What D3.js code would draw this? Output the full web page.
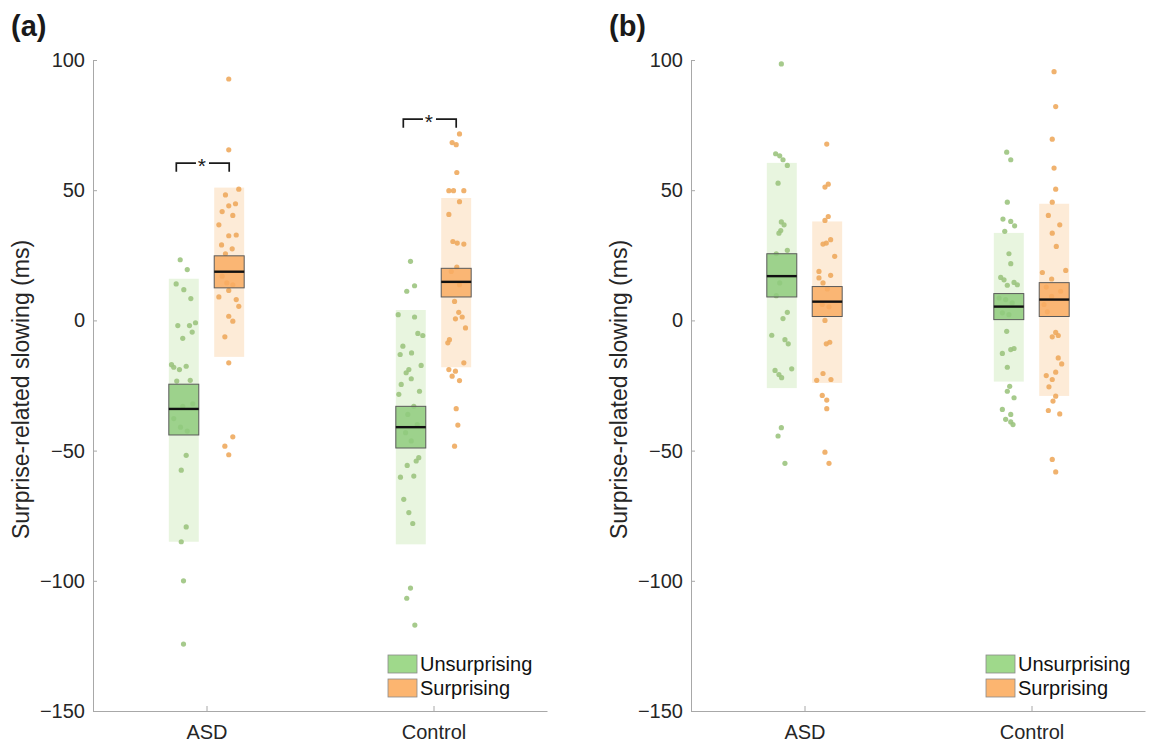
<!DOCTYPE html>
<html>
<head>
<meta charset="utf-8">
<script src="https://cdn.jsdelivr.net/npm/d3@7/dist/d3.min.js"></script>
<style>
  body { margin: 0; background: #fff; }
  svg text { font-family: "Liberation Sans", Arial, Helvetica, sans-serif; }
</style>
</head>
<body>
<div id="chart"></div>
<script>
const categories = ["ASD", "Control"];
const conditions = ["Unsurprising", "Surprising"];
const yTicks = [-150, -100, -50, 0, 50, 100];

// summary per group: [cat, cond, bandLow, boxLow, median, boxHigh, bandHigh]
const statsA = [
  ["ASD", "Unsurprising", -85, -44, -34, -24.5, 16],
  ["ASD", "Surprising", -14, 12.5, 18.7, 24.8, 51],
  ["Control", "Unsurprising", -86, -49, -41, -33, 4],
  ["Control", "Surprising", -18, 9, 14.8, 20, 47]
];
const statsB = [
  ["ASD", "Unsurprising", -26, 9, 17, 25.6, 60.5],
  ["ASD", "Surprising", -24, 1.5, 7.2, 13, 38],
  ["Control", "Unsurprising", -23.5, 0.3, 5.3, 10.3, 33.6],
  ["Control", "Surprising", -29, 1.5, 8, 14.5, 44.8]
];

// individual points: [value, jitter as fraction of half box width]
const ptsA_asdU = [[23.3,-0.24],[19.5,0.23],[14,-0.51],[11.8,0],[8.4,0.47],[-2,-0.4],[-2,0.38],[-0.9,0.78],[-4.5,0.56],[-6.9,-0.07],[-17,-0.82],[-18,-0.67],[-18.9,-0.29],[-17.6,0.16],[-23.3,-0.47],[-23,0.43],[-33,-0.07],[-32,0.6],[-37.7,-0.67],[-41,-0.22],[-42.5,0.23],[-51.8,0.16],[-57.5,-0.17],[-79.3,0.16],[-85,-0.17],[-100,-0.02],[-124.3,-0.02]];
const ptsA_asdS = [[92.7,-0.03],[65.5,-0.03],[50.4,0.64],[48.2,-0.25],[44.8,0.42],[44,-0.03],[41.8,-0.47],[40.3,0.24],[36.7,-0.69],[32.5,-0.03],[32.8,0.47],[29,-0.51],[27.5,0.2],[25.6,-0.25],[17,-0.47],[14.4,-0.16],[13.7,0.24],[9,-0.69],[11.5,-0.03],[8,0.47],[5.4,0.64],[1.6,-0.03],[-0.3,0.24],[-6.3,-0.29],[-16.3,-0.03],[-44.7,0.24],[-48.3,-0.29],[-51.6,-0.03]];
const ptsA_conU = [[22.7,-0.02],[13.3,0.25],[11.2,-0.27],[2.2,-0.84],[1.3,0.25],[-5,0.47],[-5.8,0.8],[-9.9,-0.53],[-12.5,0.05],[-13.1,-0.71],[-17.3,0.69],[-18.9,-0.13],[-20.1,-0.31],[-22.4,0.03],[-24.6,-0.64],[-28.4,-0.8],[-27.2,0.58],[-33,0.2],[-36.1,-0.2],[-40,0.43],[-43.1,-0.35],[-46.3,0.03],[-52.7,0.53],[-54,0.36],[-55.7,-0.24],[-60.2,-0.69],[-59.8,0.2],[-68.7,-0.47],[-73.8,-0.13],[-78,0.13],[-102.8,-0.02],[-106.7,-0.27],[-117,0.27]];
const ptsA_conS = [[71.6,0.22],[68.3,-0.27],[67.5,0],[56.8,0.04],[49.8,-0.49],[49.8,-0.18],[49.8,0.51],[45.6,0.22],[40.7,-0.49],[30.3,-0.22],[29.7,0.07],[29.3,0.51],[20.5,0.04],[18.8,-0.33],[13.7,0.22],[7.3,-0.11],[3.1,0.17],[0.6,-0.05],[1.3,0.4],[-2.9,0.62],[-7.4,-0.45],[-8.6,-0.56],[-16.3,0.51],[-18.9,-0.49],[-19.5,-0.05],[-23.1,0.22],[-21.4,-0.27],[-33.9,0],[-40.2,0.11],[-48.3,-0.11]];

const ptsB_asdU = [[98.5,-0.03],[64,-0.41],[63.2,-0.14],[61.7,0.08],[59.5,0.37],[52.7,-0.25],[37.8,-0.03],[36.7,0.15],[34.5,-0.07],[33.5,-0.19],[26.9,0.37],[25.6,-0.37],[14.4,-0.14],[9.5,-0.37],[3.1,0.37],[0.7,0.08],[-5.7,-0.67],[-7.4,0.21],[-9,0.43],[-18.6,0.66],[-19.2,-0.45],[-20.8,-0.19],[-22,-0.01],[-41.2,-0.03],[-44.4,-0.25],[-54.9,0.21]];
const ptsB_asdS = [[67.7,-0.03],[52.3,0.07],[51.2,-0.15],[39.9,0.07],[38.4,-0.15],[31,0.23],[29.7,-0.06],[29.3,-0.28],[24.6,0.5],[18.8,-0.55],[16.3,-0.55],[17.3,0.23],[14.4,-0.28],[12.1,0.01],[6.1,-0.33],[5.2,0.12],[0,-0.15],[-8.4,0.17],[-9,-0.06],[-20.4,-0.28],[-22.7,0.25],[-23,-0.7],[-28.8,-0.33],[-30.6,-0.03],[-33.9,-0.03],[-50.6,-0.15],[-54.9,0.12]];
const ptsB_conU = [[64.6,-0.14],[61.7,0.13],[45.4,-0.1],[38.9,-0.39],[38,0.13],[36.3,0.39],[34.2,-0.27],[25.6,0.01],[21.8,0.13],[16.5,-0.54],[15.6,-0.32],[13.5,-0.1],[14.6,0.35],[13.7,0.57],[8.6,-0.65],[8,-0.21],[6.7,0.23],[2.2,0.01],[2.9,-0.43],[-4.2,-0.14],[-12.7,-0.43],[-11.2,0.13],[-10.8,0.35],[-18,-0.1],[-25.3,0.06],[-27.2,-0.1],[-29.7,0.35],[-34.2,-0.43],[-36.1,0.13],[-38,-0.21],[-39,0.13],[-40,0.28]];
const ptsB_conS = [[95.5,-0.01],[82.1,0.1],[69.6,-0.13],[58.5,-0.01],[50.4,0.1],[45.4,-0.13],[40.3,-0.39],[36.7,0.37],[33.5,-0.13],[28.4,0.14],[18.4,-0.79],[15.9,-0.17],[19.2,0.77],[12.8,-0.53],[11.2,0.43],[9.2,-0.17],[6.1,-0.68],[3.3,-0.46],[-4.6,0.1],[-5.8,0.27],[-6.3,-0.13],[-14.4,0.27],[-16.7,0.5],[-19.9,0.1],[-21.2,-0.53],[-22.7,-0.13],[-25.5,-0.35],[-29.1,0.1],[-31,-0.08],[-34.6,-0.39],[-35.9,0.37],[-53.4,-0.13],[-58.2,0.1]];

// significance brackets (panel a only): [category, bracket height]
const sigA = [["ASD", 60.4], ["Control", 77.3]];

const W = 1149, H = 743;
const colors = {
  Unsurprising: { band: "#e8f5df", box: "#8fcb7e", dot: "#9cc47f", legend: "#9fd98b" },
  Surprising:   { band: "#fdebd7", box: "#f9ad63", dot: "#eeaa5e", legend: "#fcb570" }
};
const axisColor = "#a8a8a8";
const textColor = "#262626";

const svg = d3.select("#chart").append("svg")
  .attr("width", W).attr("height", H)
  .attr("viewBox", `0 0 ${W} ${H}`);

const y = d3.scaleLinear().domain([-150, 100]).range([711, 60]);

function drawPanel({ left, label, stats, points, sigs }) {
  const x = d3.scaleLinear().domain([0.5, 2.5]).range([left, left + 454]);
  const catPos = c => categories.indexOf(c) + 1;
  const offset = { Unsurprising: -0.1, Surprising: 0.1 };
  const halfW = 0.066;
  const g = svg.append("g");

  // axes
  const yAxis = d3.axisLeft(y).tickValues(yTicks).tickSizeInner(-4).tickSizeOuter(0).tickPadding(8);
  const ya = g.append("g").attr("transform", `translate(${left},0)`).call(yAxis);
  const xAxis = d3.axisBottom(x).tickValues([1, 2]).tickFormat(d => categories[d - 1])
    .tickSizeInner(-5).tickSizeOuter(0).tickPadding(14);
  const xa = g.append("g").attr("transform", `translate(0,${y(-150)})`).call(xAxis);
  [ya, xa].forEach(a => {
    a.select(".domain").attr("stroke", axisColor);
    a.selectAll(".tick line").attr("stroke", axisColor);
    a.selectAll(".tick text").attr("fill", textColor).style("font-size", "20px");
  });

  g.append("text")
    .attr("transform", `translate(${left - 64},${(y(100) + y(-150)) / 2 + 4}) rotate(-90)`)
    .attr("text-anchor", "middle")
    .attr("fill", textColor)
    .style("font-size", "23px")
    .text("Surprise-related slowing (ms)");

  g.append("text")
    .attr("x", left - 82).attr("y", 36)
    .attr("fill", "#1a1a1a")
    .style("font-size", "29px").style("font-weight", "bold")
    .text(label);

  const groups = stats.map(s => ({
    cat: s[0], cond: s[1], lo: s[2], q1: s[3], med: s[4], q3: s[5], hi: s[6],
    cx: catPos(s[0]) + offset[s[1]]
  }));

  // light bands
  g.selectAll(".band").data(groups).enter().append("rect")
    .attr("x", d => x(d.cx - halfW))
    .attr("width", d => x(d.cx + halfW) - x(d.cx - halfW))
    .attr("y", d => y(d.hi))
    .attr("height", d => y(d.lo) - y(d.hi))
    .attr("fill", d => colors[d.cond].band);

  // dots
  groups.forEach((d, i) => {
    g.append("g").selectAll("circle").data(points[i]).enter().append("circle")
      .attr("cx", p => x(d.cx + p[1] * halfW))
      .attr("cy", p => y(p[0]))
      .attr("r", 2.6)
      .attr("fill", colors[d.cond].dot)
      .attr("fill-opacity", 0.9);
  });

  // boxes
  g.selectAll(".box").data(groups).enter().append("rect")
    .attr("x", d => x(d.cx - halfW))
    .attr("width", d => x(d.cx + halfW) - x(d.cx - halfW))
    .attr("y", d => y(d.q3))
    .attr("height", d => y(d.q1) - y(d.q3))
    .attr("fill", d => colors[d.cond].box)
    .attr("fill-opacity", 0.85)
    .attr("stroke", "#5a5a5a")
    .attr("stroke-width", 1);

  g.selectAll(".med").data(groups).enter().append("line")
    .attr("x1", d => x(d.cx - halfW)).attr("x2", d => x(d.cx + halfW))
    .attr("y1", d => y(d.med)).attr("y2", d => y(d.med))
    .attr("stroke", "#111").attr("stroke-width", 2.4);

  // significance brackets
  (sigs || []).forEach(s => {
    const c = catPos(s[0]);
    const x1 = x(c - 0.133), x2 = x(c + 0.1), xm = x(c - 0.02);
    const yt = y(s[1]), yb = y(s[1] - 3.3);
    g.append("path")
      .attr("d", `M${x1},${yb}V${yt}H${xm - 6}M${xm + 7},${yt}H${x2}V${yb}`)
      .attr("fill", "none").attr("stroke", "#1a1a1a").attr("stroke-width", 1.7);
    g.append("text")
      .attr("x", xm).attr("y", yt + 10)
      .attr("text-anchor", "middle")
      .attr("fill", "#1a1a1a")
      .style("font-size", "21px")
      .text("*");
  });

  // legend
  const lg = g.append("g").attr("transform", `translate(${left + 295},655)`);
  conditions.forEach((c, i) => {
    lg.append("rect")
      .attr("x", 0).attr("y", i * 24)
      .attr("width", 29).attr("height", 18)
      .attr("fill", colors[c].legend)
      .attr("stroke", "#8a8a8a").attr("stroke-width", 0.8);
    lg.append("text")
      .attr("x", 32).attr("y", i * 24 + 9)
      .attr("dominant-baseline", "central")
      .attr("fill", "#111")
      .style("font-size", "20px")
      .text(c);
  });
}

drawPanel({ left: 93, label: "(a)", stats: statsA,
  points: [ptsA_asdU, ptsA_asdS, ptsA_conU, ptsA_conS], sigs: sigA });
drawPanel({ left: 691, label: "(b)", stats: statsB,
  points: [ptsB_asdU, ptsB_asdS, ptsB_conU, ptsB_conS], sigs: [] });
</script>
</body>
</html>
